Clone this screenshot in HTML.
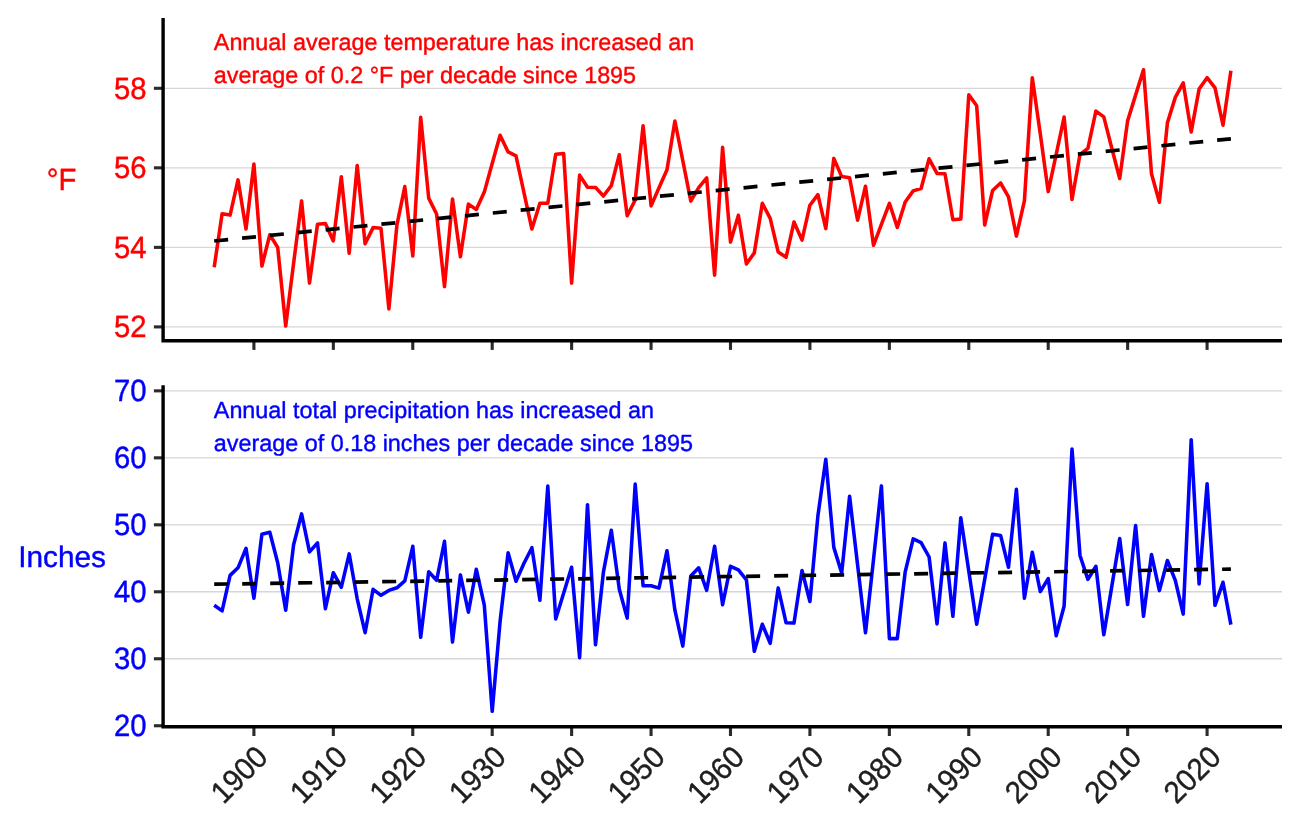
<!DOCTYPE html>
<html lang="en"><head><meta charset="utf-8"><title>Annual temperature and precipitation</title>
<style>
html,body{margin:0;padding:0;background:#fff;}
body{width:1300px;height:827px;overflow:hidden;}
svg{display:block;}
text{font-family:"Liberation Sans",Arial,Helvetica,sans-serif;text-rendering:geometricPrecision;}
.g{stroke:#d6d6d6;stroke-width:1.35;fill:none;}
.ax{stroke:#000;stroke-width:3.4;fill:none;stroke-linecap:butt;}
.tk{stroke:#2b2b2b;stroke-width:3.1;fill:none;}
.r{fill:#ff0000;stroke:#ff0000;stroke-width:0.4px;}
.b{fill:#0000ff;stroke:#0000ff;stroke-width:0.4px;}
.yl{font-size:29.3px;text-anchor:end;}
.xl{font-size:29.3px;fill:#1f1f1f;stroke:#1f1f1f;stroke-width:0.4px;text-anchor:end;}
.an{font-size:23.36px;}
.yt{font-size:29.3px;text-anchor:middle;}
</style></head><body>
<svg width="1300" height="827" viewBox="0 0 1300 827">
<rect width="1300" height="827" fill="#ffffff"/>

<line class="g" x1="163.1" x2="1282" y1="326.90" y2="326.90"/>
<line class="g" x1="163.1" x2="1282" y1="247.37" y2="247.37"/>
<line class="g" x1="163.1" x2="1282" y1="167.83" y2="167.83"/>
<line class="g" x1="163.1" x2="1282" y1="88.30" y2="88.30"/>
<line class="g" x1="163.1" x2="1282" y1="658.77" y2="658.77"/>
<line class="g" x1="163.1" x2="1282" y1="591.79" y2="591.79"/>
<line class="g" x1="163.1" x2="1282" y1="524.81" y2="524.81"/>
<line class="g" x1="163.1" x2="1282" y1="457.83" y2="457.83"/>
<line class="g" x1="163.1" x2="1282" y1="390.85" y2="390.85"/>
<text class="an r" x="213.8" y="49.7">Annual average temperature has increased an</text>
<text class="an r" x="213.8" y="83.0">average of 0.2 °F per decade since 1895</text>
<text class="an b" x="213.8" y="417.7">Annual total precipitation has increased an</text>
<text class="an b" x="213.8" y="451.0">average of 0.18 inches per decade since 1895</text>
<polyline points="214.2,267.2 222.1,213.7 230.1,215.1 238.0,179.9 246.0,229.0 253.9,164.0 261.9,266.0 269.8,234.7 277.7,247.4 285.7,326.0 293.6,263.3 301.6,200.9 309.5,283.1 317.5,224.3 325.4,223.6 333.3,240.9 341.3,176.7 349.2,253.2 357.2,165.5 365.1,243.7 373.1,227.6 381.0,228.3 388.9,308.9 396.9,225.1 404.8,186.6 412.8,256.0 420.7,117.2 428.7,198.1 436.6,214.0 444.5,286.6 452.5,199.0 460.4,256.8 468.4,204.1 476.3,209.5 484.3,192.1 492.2,163.5 500.1,135.3 508.1,151.9 516.0,155.9 524.0,192.9 531.9,229.0 539.9,203.2 547.8,203.2 555.7,154.3 563.7,153.6 571.6,283.1 579.6,175.1 587.5,187.2 595.5,187.4 603.4,196.0 611.3,185.7 619.3,154.8 627.2,215.8 635.2,200.0 643.1,125.8 651.1,205.9 659.0,187.7 667.0,169.8 674.9,121.0 682.8,160.7 690.8,201.1 698.7,187.7 706.7,177.9 714.6,275.1 722.6,147.3 730.5,242.1 738.4,215.3 746.4,264.0 754.3,252.9 762.3,203.3 770.2,218.3 778.2,252.1 786.1,257.2 794.0,222.0 802.0,240.1 809.9,205.2 817.9,194.6 825.8,228.6 833.8,158.4 841.7,176.6 849.6,177.8 857.6,220.2 865.5,186.2 873.5,245.3 881.4,224.3 889.4,203.3 897.3,227.4 905.2,202.0 913.2,190.9 921.1,188.5 929.1,158.8 937.0,173.4 945.0,173.8 952.9,219.8 960.8,219.1 968.8,94.8 976.7,105.8 984.7,225.0 992.6,190.5 1000.6,183.0 1008.5,196.9 1016.4,236.1 1024.4,200.8 1032.3,77.7 1040.3,134.0 1048.2,191.6 1056.2,154.3 1064.1,117.0 1072.0,199.5 1080.0,154.3 1087.9,148.3 1095.9,111.1 1103.8,116.9 1111.8,148.3 1119.7,178.5 1127.6,120.9 1135.6,95.1 1143.5,69.7 1151.5,173.8 1159.4,202.3 1167.4,122.9 1175.3,97.4 1183.2,82.8 1191.2,131.9 1199.1,89.1 1207.1,77.7 1215.0,87.9 1223.0,125.2 1230.9,70.8" fill="none" stroke="#ff0000" stroke-width="3.55" stroke-linejoin="round" stroke-linecap="butt"/>
<polyline points="214.2,605.2 222.1,610.9 230.1,575.4 238.0,567.8 246.0,548.3 253.9,598.3 261.9,534.2 269.8,532.3 277.7,562.8 285.7,610.3 293.6,544.8 301.6,513.9 309.5,551.9 317.5,542.9 325.4,608.7 333.3,572.7 341.3,587.3 349.2,553.9 357.2,598.8 365.1,632.7 373.1,589.3 381.0,595.3 388.9,590.4 396.9,587.8 404.8,580.8 412.8,546.3 420.7,637.3 428.7,571.7 436.6,580.3 444.5,541.3 452.5,642.1 460.4,574.9 468.4,612.2 476.3,569.3 484.3,605.2 492.2,711.3 500.1,621.3 508.1,552.7 516.0,581.3 524.0,563.2 531.9,547.7 539.9,600.3 547.8,486.1 555.7,618.9 563.7,593.0 571.6,567.3 579.6,657.7 587.5,504.7 595.5,644.7 603.4,572.2 611.3,530.3 619.3,589.2 627.2,618.1 635.2,484.1 643.1,585.8 651.1,585.8 659.0,588.1 667.0,550.7 674.9,610.2 682.8,646.1 690.8,576.0 698.7,567.8 706.7,590.3 714.6,546.3 722.6,604.7 730.5,566.3 738.4,569.8 746.4,579.8 754.3,651.3 762.3,624.3 770.2,643.3 778.2,587.9 786.1,622.8 794.0,623.1 802.0,570.5 809.9,601.5 817.9,515.8 825.8,459.3 833.8,547.4 841.7,572.9 849.6,496.3 857.6,565.0 865.5,632.7 873.5,559.6 881.4,485.9 889.4,638.6 897.3,638.6 905.2,571.8 913.2,538.9 921.1,542.6 929.1,557.0 937.0,623.9 945.0,542.9 952.9,616.3 960.8,517.7 968.8,571.2 976.7,624.3 984.7,579.4 992.6,534.3 1000.6,535.4 1008.5,567.3 1016.4,489.3 1024.4,598.3 1032.3,552.3 1040.3,591.6 1048.2,578.6 1056.2,635.7 1064.1,606.2 1072.0,449.0 1080.0,555.5 1087.9,579.4 1095.9,566.3 1103.8,634.7 1111.8,586.4 1119.7,538.5 1127.6,604.5 1135.6,525.5 1143.5,616.3 1151.5,554.5 1159.4,590.6 1167.4,560.5 1175.3,580.4 1183.2,614.1 1191.2,439.7 1199.1,583.9 1207.1,483.7 1215.0,605.3 1223.0,582.3 1230.9,624.6" fill="none" stroke="#0000ff" stroke-width="3.55" stroke-linejoin="round" stroke-linecap="butt"/>
<line x1="214.2" y1="241.0" x2="1230.9" y2="138.8" stroke="#000" stroke-width="3.7" stroke-dasharray="14 14"/>
<line x1="214.2" y1="584.2" x2="1230.9" y2="569.1" stroke="#000" stroke-width="3.7" stroke-dasharray="14 14"/>
<line class="tk" x1="153.9" x2="163.1" y1="326.90" y2="326.90"/>
<text class="yl r" transform="translate(146.6,337.25) scale(1,1.05)">52</text>
<line class="tk" x1="153.9" x2="163.1" y1="247.37" y2="247.37"/>
<text class="yl r" transform="translate(146.6,257.72) scale(1,1.05)">54</text>
<line class="tk" x1="153.9" x2="163.1" y1="167.83" y2="167.83"/>
<text class="yl r" transform="translate(146.6,178.18) scale(1,1.05)">56</text>
<line class="tk" x1="153.9" x2="163.1" y1="88.30" y2="88.30"/>
<text class="yl r" transform="translate(146.6,98.65) scale(1,1.05)">58</text>
<line class="tk" x1="153.9" x2="163.1" y1="725.75" y2="725.75"/>
<text class="yl b" transform="translate(146.6,736.10) scale(1,1.05)">20</text>
<line class="tk" x1="153.9" x2="163.1" y1="658.77" y2="658.77"/>
<text class="yl b" transform="translate(146.6,669.12) scale(1,1.05)">30</text>
<line class="tk" x1="153.9" x2="163.1" y1="591.79" y2="591.79"/>
<text class="yl b" transform="translate(146.6,602.14) scale(1,1.05)">40</text>
<line class="tk" x1="153.9" x2="163.1" y1="524.81" y2="524.81"/>
<text class="yl b" transform="translate(146.6,535.16) scale(1,1.05)">50</text>
<line class="tk" x1="153.9" x2="163.1" y1="457.83" y2="457.83"/>
<text class="yl b" transform="translate(146.6,468.18) scale(1,1.05)">60</text>
<line class="tk" x1="153.9" x2="163.1" y1="390.85" y2="390.85"/>
<text class="yl b" transform="translate(146.6,401.20) scale(1,1.05)">70</text>
<line class="tk" x1="253.91" x2="253.91" y1="340.7" y2="349.9"/>
<line class="tk" x1="253.91" x2="253.91" y1="726.8" y2="736.0"/>
<text class="xl" transform="translate(269.51,758.90) rotate(-45) scale(1,1.05)">1900</text>
<line class="tk" x1="333.34" x2="333.34" y1="340.7" y2="349.9"/>
<line class="tk" x1="333.34" x2="333.34" y1="726.8" y2="736.0"/>
<text class="xl" transform="translate(348.94,758.90) rotate(-45) scale(1,1.05)">1910</text>
<line class="tk" x1="412.77" x2="412.77" y1="340.7" y2="349.9"/>
<line class="tk" x1="412.77" x2="412.77" y1="726.8" y2="736.0"/>
<text class="xl" transform="translate(428.38,758.90) rotate(-45) scale(1,1.05)">1920</text>
<line class="tk" x1="492.20" x2="492.20" y1="340.7" y2="349.9"/>
<line class="tk" x1="492.20" x2="492.20" y1="726.8" y2="736.0"/>
<text class="xl" transform="translate(507.81,758.90) rotate(-45) scale(1,1.05)">1930</text>
<line class="tk" x1="571.63" x2="571.63" y1="340.7" y2="349.9"/>
<line class="tk" x1="571.63" x2="571.63" y1="726.8" y2="736.0"/>
<text class="xl" transform="translate(587.24,758.90) rotate(-45) scale(1,1.05)">1940</text>
<line class="tk" x1="651.06" x2="651.06" y1="340.7" y2="349.9"/>
<line class="tk" x1="651.06" x2="651.06" y1="726.8" y2="736.0"/>
<text class="xl" transform="translate(666.66,758.90) rotate(-45) scale(1,1.05)">1950</text>
<line class="tk" x1="730.49" x2="730.49" y1="340.7" y2="349.9"/>
<line class="tk" x1="730.49" x2="730.49" y1="726.8" y2="736.0"/>
<text class="xl" transform="translate(746.09,758.90) rotate(-45) scale(1,1.05)">1960</text>
<line class="tk" x1="809.92" x2="809.92" y1="340.7" y2="349.9"/>
<line class="tk" x1="809.92" x2="809.92" y1="726.8" y2="736.0"/>
<text class="xl" transform="translate(825.52,758.90) rotate(-45) scale(1,1.05)">1970</text>
<line class="tk" x1="889.36" x2="889.36" y1="340.7" y2="349.9"/>
<line class="tk" x1="889.36" x2="889.36" y1="726.8" y2="736.0"/>
<text class="xl" transform="translate(904.96,758.90) rotate(-45) scale(1,1.05)">1980</text>
<line class="tk" x1="968.78" x2="968.78" y1="340.7" y2="349.9"/>
<line class="tk" x1="968.78" x2="968.78" y1="726.8" y2="736.0"/>
<text class="xl" transform="translate(984.38,758.90) rotate(-45) scale(1,1.05)">1990</text>
<line class="tk" x1="1048.21" x2="1048.21" y1="340.7" y2="349.9"/>
<line class="tk" x1="1048.21" x2="1048.21" y1="726.8" y2="736.0"/>
<text class="xl" transform="translate(1063.81,758.90) rotate(-45) scale(1,1.05)">2000</text>
<line class="tk" x1="1127.64" x2="1127.64" y1="340.7" y2="349.9"/>
<line class="tk" x1="1127.64" x2="1127.64" y1="726.8" y2="736.0"/>
<text class="xl" transform="translate(1143.24,758.90) rotate(-45) scale(1,1.05)">2010</text>
<line class="tk" x1="1207.08" x2="1207.08" y1="340.7" y2="349.9"/>
<line class="tk" x1="1207.08" x2="1207.08" y1="726.8" y2="736.0"/>
<text class="xl" transform="translate(1222.67,758.90) rotate(-45) scale(1,1.05)">2020</text>
<polyline class="ax" points="163.1,17.9 163.1,340.7 1282,340.7" stroke-linejoin="miter"/>
<polyline class="ax" points="163.1,385.3 163.1,726.8 1282,726.8" stroke-linejoin="miter"/>
<text class="yt r" transform="translate(61.5,189.6) scale(1,1.05)">°F</text>
<text class="yt b" x="62.1" y="566.9" style="font-size:29.8px">Inches</text>
</svg></body></html>
